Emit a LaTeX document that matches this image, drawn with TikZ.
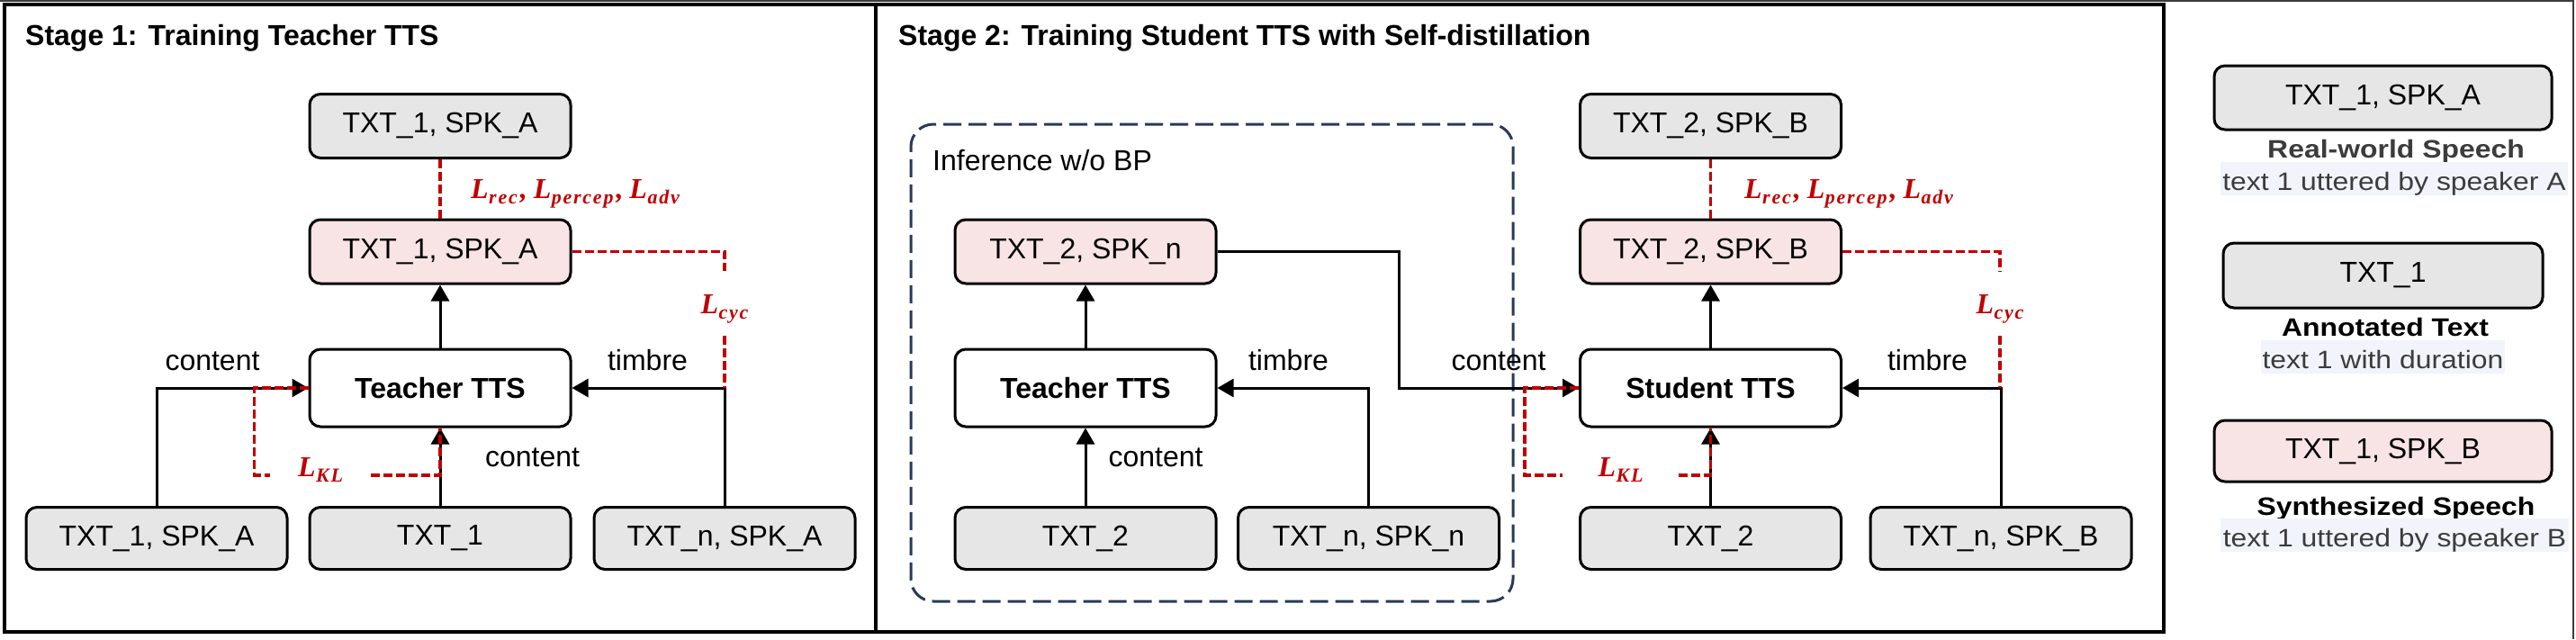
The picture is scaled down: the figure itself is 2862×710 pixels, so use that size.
\documentclass[tikz,border=0pt]{standalone}
\usepackage{fontspec}
\setmainfont{Liberation Sans}
\newfontfamily\lossserif{Liberation Serif}
\usetikzlibrary{arrows.meta}
\definecolor{boxgray}{RGB}{230,230,230}
\definecolor{pinkfill}{RGB}{248,228,229}
\definecolor{redc}{RGB}{192,0,0}
\definecolor{navyc}{RGB}{40,58,90}
\definecolor{legbg}{RGB}{241,244,250}
\definecolor{subgray}{RGB}{60,60,60}
\definecolor{outerc}{RGB}{60,60,60}
\newcommand{\legfont}{\fontsize{28}{34}\selectfont}
\newcommand{\hstretch}[1]{\scalebox{1.14}[1]{#1}}
\newcommand{\lossfont}{\lossserif\bfseries\itshape\fontsize{32}{36}\selectfont}
\newcommand{\LL}[1]{{\lossfont L\kern0.5pt\raisebox{-6pt}{\fontsize{22}{24}\selectfont\addfontfeature{LetterSpace=8}#1}}}
\newcommand{\LC}{{\lossfont\kern3pt,\kern7pt}}
\begin{document}
\begin{tikzpicture}[x=1pt,y=-1pt,
  basebox/.style={rectangle, rounded corners=12pt, draw=black, line width=3pt,
    minimum width=290pt, minimum height=71pt, inner sep=0pt,
    font=\fontsize{32}{38}\selectfont},
  gbox/.style={basebox, fill=boxgray},
  pbox/.style={basebox, fill=pinkfill},
  tts/.style={basebox, fill=white, minimum height=86pt, font=\fontsize{32}{38}\selectfont\bfseries},
  arr/.style={draw=black, line width=3pt, -{Triangle[length=18pt,width=20pt]}},
  lab/.style={anchor=base, inner sep=0pt, font=\fontsize{32}{38}\selectfont},
  rdash/.style={draw=redc, line width=3.3pt, dash pattern=on 10pt off 4pt},
  loss/.style={text=redc, inner sep=0pt, font=\lossfont},
  cycl/.style={loss, minimum height=72pt, text height=22pt, text depth=0pt},
  kll/.style={loss, text height=10pt, text depth=8pt},
  title/.style={anchor=base west, inner sep=0pt, font=\fontsize{32}{38}\selectfont\bfseries},
  legt/.style={anchor=base, inner sep=0pt, font=\legfont\bfseries},
  legs/.style={fill=legbg, text=subgray, inner sep=0pt, minimum height=37pt,
    text height=25pt, text depth=0pt, font=\legfont}
]
\useasboundingbox (0,0) rectangle (2862,710);
\fill[white] (0,0) rectangle (2862,710);

% outer thin frame lines
\draw[line width=2pt, outerc] (0,1) -- (2859,1) -- (2859,710);

% stage frames
\draw[line width=4pt] (5,5) rectangle (973,702);
\draw[line width=4pt] (973,5) rectangle (2404,702);
\node[title] (s1t) at (28,50) {Stage 1: Training Teacher TTS};
\node[title] (s2t) at (998,50) {Stage 2: Training Student TTS with Self-distillation};

% ---------------- Stage 1 ----------------
\node[gbox] (A1) at (489,140) {TXT\_1, SPK\_A};
\node[pbox] (A1p) at (489,279.5) {TXT\_1, SPK\_A};
\node[tts] (T1) at (489,431) {Teacher TTS};
\node[gbox, minimum height=69pt] (B1l) at (174,598) {TXT\_1, SPK\_A};
\node[gbox, minimum height=69pt] (B1m) at (489,598) {TXT\_1};
\node[gbox, minimum height=69pt] (B1r) at (805,598) {TXT\_n, SPK\_A};

\draw[arr] (B1l.north) |- (T1.west);
\draw[arr] (B1r.north) |- (T1.east);
\draw[arr] (B1m.north) -- (T1.south);
\draw[arr] (T1.north) -- (A1p.south);

\node[lab] (c1a) at (236,411) {content};
\node[lab] (t1a) at (719.5,411) {timbre};
\node[lab] (c1b) at (591.5,518) {content};

\draw[rdash] (A1.south) -- (A1p.north);
\node[loss, anchor=base] (Lr1) at (639,220) {\LL{rec}\LC\LL{percep}\LC\LL{adv}};
\node[cycl] (Lc1) at (805,337) {\LL{cyc}};
\draw[rdash] (A1p.east) -| (Lc1.north);
\draw[rdash] (Lc1.south) -- (Lc1.south |- T1.east);
\node[kll, minimum width=112pt] (Lk1) at (356,528) {\LL{KL}};
\draw[rdash] (T1.west) -- ++(-60,0) |- (Lk1.west);
\draw[rdash] (Lk1.east) -| (T1.south);

% ---------------- Stage 2 ----------------
\node[draw=navyc, line width=3pt, dash pattern=on 20pt off 8pt, rounded corners=25pt,
  minimum width=669pt, minimum height=530pt, inner sep=0pt] (inf) at (1346.5,403) {};
\node[lab, anchor=base west] (infl) at (1036,189) {Inference w/o BP};

\node[pbox] (P2) at (1206,279.5) {TXT\_2, SPK\_n};
\node[tts] (T2) at (1206,431) {Teacher TTS};
\node[gbox, minimum height=69pt] (B2a) at (1206,598) {TXT\_2};
\node[gbox, minimum height=69pt] (B2b) at (1520.5,598) {TXT\_n, SPK\_n};

\node[gbox] (S2t) at (1900.5,140) {TXT\_2, SPK\_B};
\node[pbox] (S2p) at (1900.5,279.5) {TXT\_2, SPK\_B};
\node[tts] (ST) at (1900.5,431) {Student TTS};
\node[gbox, minimum height=69pt] (S2a) at (1900.5,598) {TXT\_2};
\node[gbox, minimum height=69pt] (S2b) at (2223,598) {TXT\_n, SPK\_B};

\draw[arr] (B2a.north) -- (T2.south);
\draw[arr] (B2b.north) |- (T2.east);
\draw[arr] (T2.north) -- (P2.south);
\draw[arr] (P2.east) -- ++(202,0) |- (ST.west);
\draw[arr] (S2a.north) -- (ST.south);
\draw[arr] (S2b.north) |- (ST.east);
\draw[arr] (ST.north) -- (S2p.south);

\node[lab] (t2a) at (1431.5,411) {timbre};
\node[lab] (c2b) at (1284,518) {content};
\node[lab] (c2a) at (1665,411) {content};
\node[lab] (t2b) at (2141.5,411) {timbre};

\draw[rdash] (S2t.south) -- (S2p.north);
\node[loss, anchor=base] (Lr2) at (2054,220) {\LL{rec}\LC\LL{percep}\LC\LL{adv}};
\node[cycl] (Lc2) at (2222,337) {\LL{cyc}};
\draw[rdash] (S2p.east) -| (Lc2.north);
\draw[rdash] (Lc2.south) -- (Lc2.south |- ST.east);
\node[kll, minimum width=129pt] (Lk2) at (1800.5,528) {\LL{KL}};
\draw[rdash] (ST.west) -- ++(-60,0) |- (Lk2.west);
\draw[rdash] (Lk2.east) -| (ST.south);

% ---------------- Legend ----------------
\node[gbox, minimum width=375pt] (G1) at (2647.5,108.5) {TXT\_1, SPK\_A};
\node[legt, text=subgray] (G1t) at (2662,175) {\hstretch{Real-world Speech}};
\node[legs, minimum width=386pt] (G1s) at (2660,198.5) {\hstretch{text 1 uttered by speaker A}};

\node[gbox, minimum width=355pt, minimum height=72pt] (G2) at (2647.5,306) {TXT\_1};
\node[legt] (G2t) at (2650,373) {\hstretch{Annotated Text}};
\node[legs, minimum width=271pt] (G2s) at (2647.5,396.5) {\hstretch{text 1 with duration}};

\node[pbox, minimum width=375pt, minimum height=68pt] (G3) at (2647.5,501) {TXT\_1, SPK\_B};
\node[legt] (G3t) at (2662,572) {\hstretch{Synthesized Speech}};
\node[legs, minimum width=387pt] (G3s) at (2660.5,594.5) {\hstretch{text 1 uttered by speaker B}};
\end{tikzpicture}
\end{document}
